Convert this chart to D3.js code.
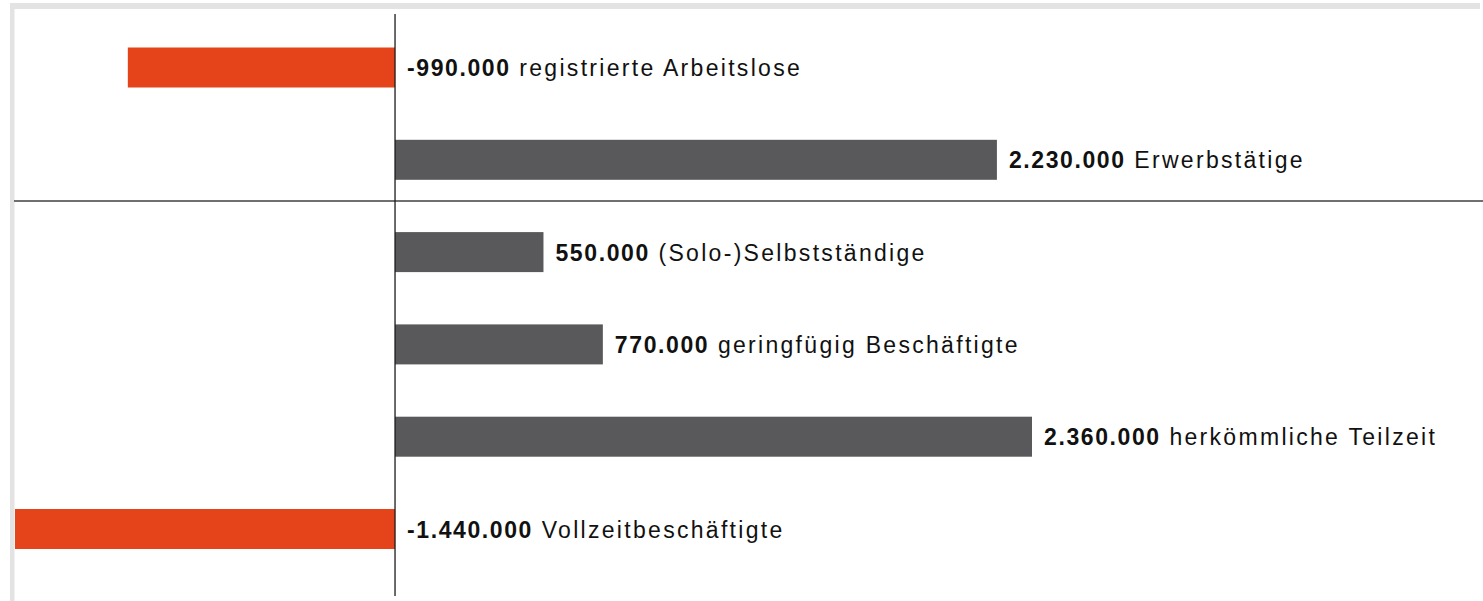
<!DOCTYPE html>
<meta charset="utf-8">
<style>
body { margin: 0; background: #fff; }
text { font-family: "Liberation Sans", Arial, sans-serif; }
</style>
<svg width="1483" height="601"></svg>
<script src="https://d3js.org/d3.v7.min.js"></script>
<script>
// Werte
var categories = ["registrierte Arbeitslose", "Erwerbstätige", "(Solo-)Selbstständige",
                  "geringfügig Beschäftigte", "herkömmliche Teilzeit", "Vollzeitbeschäftigte"];
var values = [-990000, 2230000, 550000, 770000, 2360000, -1440000];
var valueLabels = ["-990.000", "2.230.000", "550.000", "770.000", "2.360.000", "-1.440.000"];

var svg = d3.select("svg"),
    width = +svg.attr("width"),
    height = +svg.attr("height");

var data = categories.map(function(c, i) {
  return {name: c, value: values[i], label: valueLabels[i]};
});

var x = d3.scaleLinear()
    .domain([-1408000, 2360000])
    .range([15, 1032]);

var y = d3.scalePoint()
    .domain(categories)
    .range([67.5, 529]);

var barH = 40;

// frame
svg.append("rect").attr("x", 10).attr("y", 3).attr("width", 1470).attr("height", 6).attr("fill", "#e3e3e3");
svg.append("rect").attr("x", 10).attr("y", 3).attr("width", 4.5).attr("height", height).attr("fill", "#e3e3e3");

svg.append("clipPath").attr("id", "clip")
  .append("rect").attr("x", 15).attr("y", 10).attr("width", width - 15).attr("height", height);

svg.append("g")
    .attr("clip-path", "url(#clip)")
  .selectAll("rect")
  .data(data)
  .enter().append("rect")
    .attr("x", function(d) { return x(Math.min(0, d.value)); })
    .attr("y", function(d) { return y(d.name) - barH / 2; })
    .attr("width", function(d) { return Math.abs(x(d.value) - x(0)); })
    .attr("height", barH)
    .attr("fill", function(d) { return d.value < 0 ? "#e5441a" : "#59595b"; });

// separator between totals and detail
svg.append("line")
    .attr("x1", 14).attr("x2", width)
    .attr("y1", 201).attr("y2", 201)
    .attr("stroke", "#404040").attr("stroke-width", 1.5);

// zero line
svg.append("line")
    .attr("x1", x(0)).attr("x2", x(0))
    .attr("y1", 14).attr("y2", 596)
    .attr("stroke", "#1a1a1a").attr("stroke-width", 1.3);

var labels = svg.append("g")
  .selectAll("text")
  .data(data)
  .enter().append("text")
    .attr("x", function(d) { return Math.max(x(0), x(d.value)) + 12; })
    .attr("y", function(d) { return y(d.name) + 8.5; })
    .attr("font-size", "23px")
    .attr("letter-spacing", "2.3px")
    .attr("fill", "#111");

labels.append("tspan")
    .attr("font-weight", "bold")
    .attr("letter-spacing", "1.6px")
    .text(function(d) { return d.label; });
labels.append("tspan")
    .text(function(d) { return " " + d.name; });
</script>
